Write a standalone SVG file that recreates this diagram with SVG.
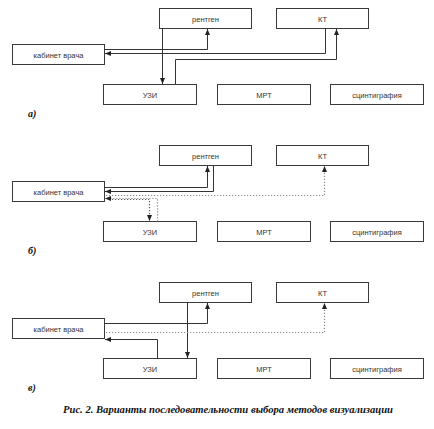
<svg xmlns="http://www.w3.org/2000/svg" width="434" height="429" viewBox="0 0 434 429">
<style>
.box{fill:#fff;stroke:#3a3a3a;stroke-width:1}
.t{font-family:"Liberation Sans",Arial,sans-serif;font-size:7.5px;fill:#333;text-anchor:middle}
.c{fill:none;stroke:#333;stroke-width:1}
.d{fill:none;stroke:#555;stroke-width:1.2;stroke-dasharray:1.2,1.8}
.dl{fill:none;stroke:#888;stroke-width:1.2;stroke-dasharray:1.2,1.8}
.lbl{font-family:"Liberation Serif","Times New Roman",serif;font-weight:bold;font-style:italic;font-size:10px;fill:#111}
.cap{font-family:"Liberation Serif","Times New Roman",serif;font-weight:bold;font-style:italic;font-size:10px;fill:#111;text-anchor:middle}
</style>
<defs>
<marker id="ah" markerUnits="userSpaceOnUse" markerWidth="6" markerHeight="6" refX="6" refY="3" orient="auto">
<path d="M0,0.5 L6,3 L0,5.5 z" fill="#222"/>
</marker>
</defs>
<rect width="434" height="429" fill="#fff"/>

<!-- Panel a -->
<g id="a-rentgen"><rect class="box" x="159.5" y="8.5" width="92" height="20"/><text class="t" x="205.5" y="21.5">рентген</text></g>
<g id="a-kt"><rect class="box" x="276.5" y="8.5" width="92" height="20"/><text class="t" x="322.5" y="21.5">КТ</text></g>
<g id="a-kabinet"><rect class="box" x="12.5" y="44.5" width="92" height="20"/><text class="t" x="58.5" y="57.5">кабинет врача</text></g>
<g id="a-uzi"><rect class="box" x="103.5" y="84.5" width="93" height="20"/><text class="t" x="150" y="97.5">УЗИ</text></g>
<g id="a-mrt"><rect class="box" x="217.5" y="84.5" width="93" height="20"/><text class="t" x="264" y="97.5">МРТ</text></g>
<g id="a-scint"><rect class="box" x="330.5" y="84.5" width="93" height="20"/><text class="t" x="377" y="97.5">сцинтиграфия</text></g>
<text class="lbl" x="28" y="117">а)</text>

<!-- Panel b -->
<g id="b-rentgen"><rect class="box" x="159.5" y="145.5" width="92" height="20"/><text class="t" x="205.5" y="158.5">рентген</text></g>
<g id="b-kt"><rect class="box" x="276.5" y="145.5" width="92" height="20"/><text class="t" x="322.5" y="158.5">КТ</text></g>
<g id="b-kabinet"><rect class="box" x="12.5" y="181.5" width="92" height="20"/><text class="t" x="58.5" y="194.5">кабинет врача</text></g>
<g id="b-uzi"><rect class="box" x="103.5" y="221.5" width="93" height="20"/><text class="t" x="150" y="234.5">УЗИ</text></g>
<g id="b-mrt"><rect class="box" x="217.5" y="221.5" width="93" height="20"/><text class="t" x="264" y="234.5">МРТ</text></g>
<g id="b-scint"><rect class="box" x="330.5" y="221.5" width="93" height="20"/><text class="t" x="377" y="234.5">сцинтиграфия</text></g>
<text class="lbl" x="28" y="254">б)</text>

<!-- Panel c -->
<g id="c-rentgen"><rect class="box" x="159.5" y="282.5" width="92" height="20"/><text class="t" x="205.5" y="295.5">рентген</text></g>
<g id="c-kt"><rect class="box" x="276.5" y="282.5" width="92" height="20"/><text class="t" x="322.5" y="295.5">КТ</text></g>
<g id="c-kabinet"><rect class="box" x="12.5" y="318.5" width="92" height="20"/><text class="t" x="58.5" y="331.5">кабинет врача</text></g>
<g id="c-uzi"><rect class="box" x="103.5" y="358.5" width="93" height="20"/><text class="t" x="150" y="371.5">УЗИ</text></g>
<g id="c-mrt"><rect class="box" x="217.5" y="358.5" width="93" height="20"/><text class="t" x="264" y="371.5">МРТ</text></g>
<g id="c-scint"><rect class="box" x="330.5" y="358.5" width="93" height="20"/><text class="t" x="377" y="371.5">сцинтиграфия</text></g>
<text class="lbl" x="28" y="391">в)</text>

<g id="connectors">
<!-- a -->
<path class="c" d="M104.5,49.5 H207.5 V29" marker-end="url(#ah)"/>
<path class="c" d="M325.5,28.5 V53.5 H105" marker-end="url(#ah)"/>
<path class="c" d="M162.5,28.5 V84" marker-end="url(#ah)"/>
<path class="c" d="M175.5,84.5 V59.5 H336.5 V29" marker-end="url(#ah)"/>
<!-- b -->
<path class="c" d="M104.5,187.5 H207.5 V166" marker-end="url(#ah)"/>
<path class="c" d="M213.5,165.5 V191.5 H105" marker-end="url(#ah)"/>
<path class="dl" d="M106,195.5 H324.5 V166" marker-end="url(#ah)"/>
<path class="dl" d="M157.5,221.5 V198.5 H105" marker-end="url(#ah)"/>
<path class="d" d="M112,199.5 H149.5 V221" marker-end="url(#ah)"/>
<!-- c -->
<path class="c" d="M104.5,323.5 H207.5 V303" marker-end="url(#ah)"/>
<path class="c" d="M187.5,302.5 V358" marker-end="url(#ah)"/>
<path class="c" d="M157.5,358.5 V339.5 H105" marker-end="url(#ah)"/>
<path class="dl" d="M106,332.5 H324.5 V303" marker-end="url(#ah)"/>
</g>

<text class="cap" x="228" y="413" textLength="330" lengthAdjust="spacingAndGlyphs">Рис. 2. Варианты последовательности выбора методов визуализации</text>
</svg>
